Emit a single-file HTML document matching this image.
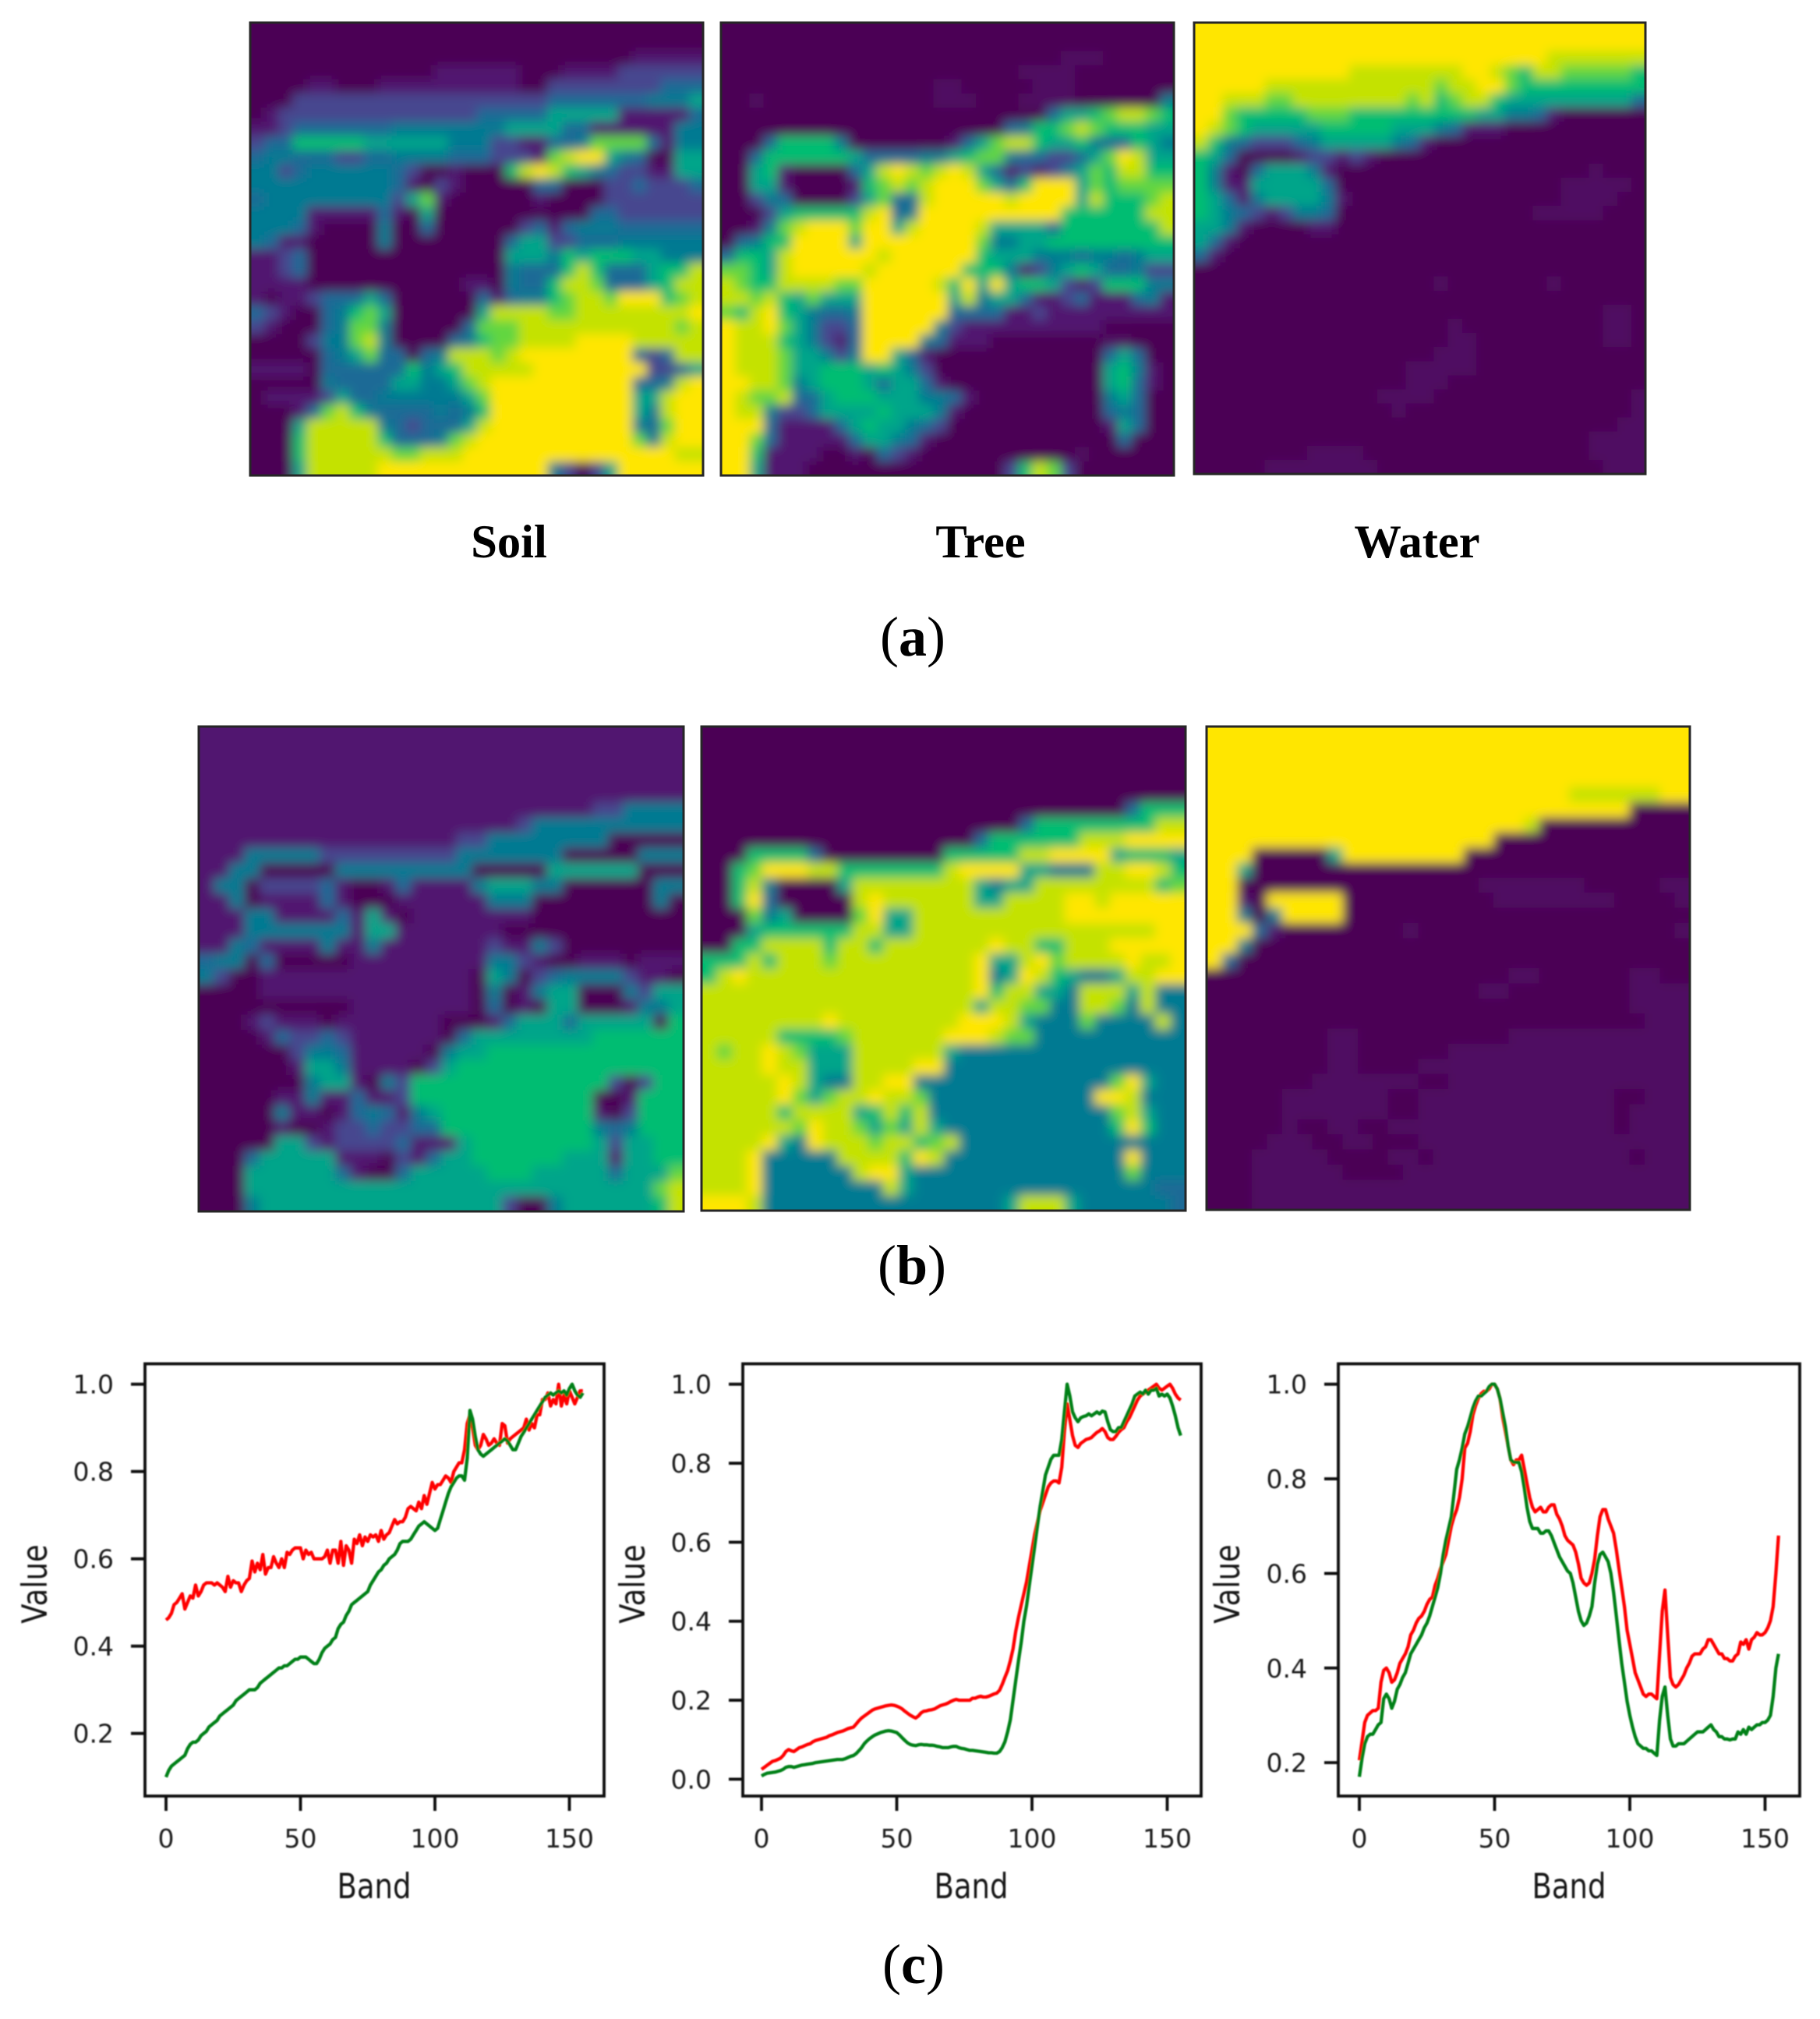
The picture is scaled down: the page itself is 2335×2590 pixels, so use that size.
<!DOCTYPE html>
<html lang="en">
<head>
<meta charset="utf-8">
<title>Soil, Tree and Water abundance maps and spectra</title>
<style>
html,body{margin:0;padding:0;background:#fff;}
svg{display:block;}
.tick{font-family:"DejaVu Sans",sans-serif;font-size:33px;fill:#1e1e1e;}
.axis{font-family:"DejaVu Sans",sans-serif;font-size:37px;fill:#141414;}
.cap{font-family:"Liberation Serif",serif;font-weight:bold;font-size:60.5px;fill:#000;text-anchor:middle;}
.sub{font-family:"Liberation Serif",serif;font-size:72px;fill:#000;text-anchor:middle;}
</style>
</head>
<body>
<svg id="page" xmlns="http://www.w3.org/2000/svg" width="2335" height="2590" viewBox="0 0 2335 2590">
<defs>
<filter id="heat-blur" x="-5%" y="-5%" width="110%" height="110%"><feGaussianBlur stdDeviation="7"/></filter>
<filter id="soft" x="-5%" y="-5%" width="110%" height="110%"><feGaussianBlur stdDeviation="0.7"/></filter>
</defs>
<rect width="2335" height="2590" fill="#fff"/>
<g id="heatmaps"></g>
<text class="cap" x="653" y="715">Soil</text>
<text class="cap" x="1258" y="715">Tree</text>
<text class="cap" x="1818" y="715">Water</text>
<text class="sub" x="1171" y="841">(<tspan font-weight="bold">a</tspan>)</text>
<text class="sub" x="1170" y="1647">(<tspan font-weight="bold">b</tspan>)</text>
<text class="sub" x="1172" y="2544">(<tspan font-weight="bold">c</tspan>)</text>
<g id="charts"></g>
</svg>
<script>
// ---------- heatmap values (levels 0-9, a = faint) ----------
const soilMapA = [
"00000000000000000000000000000000",
"00000000000000000000000000000000",
"00000000000000000000000000011111",
"00000000000001111110001111222222",
"00001100011111111110022222222333",
"00022222222222222222233333334445",
"01222222222222223333355555111113",
"11233333334444444455553311111144",
"23366666555555444221133477773144",
"34433322334444333222178995430055",
"44234444443200100068986543221155",
"44444444443102100000330002232223",
"34444444442571000000100002222222",
"44441111131050000000000033222222",
"44431000040030000002313444333333",
"43110000040000000035522333444444",
"11230000000000000055546566655444",
"11230000000000000043336863335668",
"11110000000000011043368873335688",
"10112333530000003134467887999678",
"32100346750000005888877888888889",
"21000347740000037778888888888878",
"00002447840000346778888999988888",
"00000345733034888789999999932388",
"11110333333645688888999999992235",
"00000433335544578999999999933489",
"01111253344444457999999999955899",
"00013786433334346999999999954899",
"00058888843233358999999999943799",
"00068888863334789999999999974899",
"00068888887788899999999999999988",
"00058888899999999999942025999999"];
const treeMapA = [
"00000000000000000000000000000000",
"00000000000000000000000000000000",
"000000000000000000000000aaa00000",
"000000000000000000000aaaa0000000",
"000000000000000aa00000aaa0000000",
"00a000000000000aaa000aaaa0000004",
"00000000000000000000000355678876",
"00000000000000000000346678766655",
"00036666400000001357886556433654",
"00366666653333445677433223579855",
"00561000035898789853121245768866",
"00551000016787899975369995767777",
"00243000025733899999899995866678",
"00025666668934999999999966666688",
"00147899979958999985555366666668",
"03466999959999999974455666666666",
"36658999999899999965554443443455",
"77658999998999999666412456533422",
"87668888779999986959566521266644",
"88786575559999995845531123111341",
"76896543349999993333112111111111",
"98897542239999942111111111100000",
"988865421399994311100000000aa000",
"98887554249953100000000000035300",
"98887556665654200000000000056410",
"99887456665355310000000000056310",
"98778335666555443100000000045300",
"98842235555655541000000000034300",
"99931111356554320000000000015300",
"99731111135543100000000000003000",
"9961111001032100000000000a000000",
"99511100000000000000268720000000"];
const waterMapA = [
"99999999999999999999999999999999",
"99999999999999999999999999999999",
"99999999999999999999999998888888",
"99999999999888888889987688777776",
"99999888888888888788997666666666",
"99888778888888878678865555555553",
"99766666777666666666554431000000",
"98765555566666555431110000000000",
"86432223455555431000000000000000",
"65300001221210000000000000000000",
"6410355541000000000000000000a000",
"64115555530000000000000000aaaaa0",
"65314555541000000000000000aaaa00",
"654321244300000000000000aaaaa000",
"55410000110000000000000000000000",
"53100000000000000000000000000000",
"31000000000000000000000000000000",
"00000000000000000000000000000000",
"00000000000000000a0000000a000000",
"00000000000000000000000000000000",
"00000000000000000000000000000aa0",
"000000000000000000a0000000000aa0",
"000000000000000000aa000000000aa0",
"00000000000000000aaa000000000000",
"000000000000000aaaaa000000000000",
"000000000000000aaa00000000000000",
"0000000000000aaaa00000000000000a",
"00000000000000a0000000000000000a",
"000000000000000000000000000000aa",
"0000000000000000000000000000aaaa",
"00000000aaaa0000000000000000aaaa",
"00000aaaaaaaa0000000000000000aaa"];
const soilMapB = [
"11111111111111111111111111111111",
"11111111111111111111111111111111",
"11111111111111111111111111111111",
"11111111111111111111111111111111",
"11111111111111111111111111111111",
"11111111111111111111111111224444",
"11111111111111111111124444444444",
"11111111111111111224444444400000",
"11144444222222222444444400000444",
"11440000044444444400000555555000",
"14402222310013111145554400000044",
"11401111310001111114440000000040",
"11144111131510111111110000000000",
"11144444441551111111000000000000",
"11431111411411111112114200000000",
"34403000001111111114421001110111",
"42001111111111111105402344442110",
"00001111111111111104014550004255",
"00000000001111111103010550001445",
"00012111011111110001355535555506",
"00001322321111110355555555666666",
"00000024431111104556666666666666",
"00000015541111025666666666666666",
"00000004551042666666666666620266",
"00000114113112666666666666001666",
"00000411013431456666666666102666",
"00000100122322336666666666434666",
"00000552122223111566666666525566",
"00035555511102135566666655515566",
"00055555531003555556665555535557",
"00055555555555555555555555555578",
"00045555555555555555200455555568"];
const treeMapB = [
"00000000000000000000000000000000",
"00000000000000000000000000000000",
"00000000000000000000000000000000",
"00000000000000000000000000000000",
"00000000000000000000000000000000",
"00000000000000000000000000003666",
"00000000000000000000036666666688",
"00000000000000000036666668889999",
"00066663000000006666688999956665",
"00679998866666668999955444889986",
"00684000058888888854558888888867",
"00693000008988888855888899899999",
"00074500007955888888888899999999",
"00056666668855888888888888888899",
"00668888688688888889886688899999",
"66686888788888888895589788889889",
"68988888888888888894598654458899",
"88888888888888888896885548885844",
"88888888888888888858877448874844",
"88888888988888888999854447444484",
"88888666678888889998774444444444",
"87889875558888885444444444444444",
"88889885558888994444444444444444",
"88888985448899444444444444479544",
"88888975788988744444444444998444",
"88888688885686844444444444478544",
"88888879887575854444444444469644",
"88889549888788678444444444444444",
"88894444488886984444444444449444",
"88894444448995444444444444447444",
"88894444444485444444444444444433",
"99984444444444444444588854444443"];
const waterMapB = [
"99999999999999999999999999999999",
"99999999999999999999999999999999",
"99999999999999999999999999999999",
"99999999999999999999999999999999",
"99999999999999999999999988888899",
"99999999999999999999999999990000",
"99999999999999999999980000000000",
"99999999999999999990000000000000",
"99900000599999999000000000000000",
"99500000000000000000000000000000",
"990000000000000000aaaaaaa00000aa",
"9910999990000000000aaaaaaaa0000a",
"99404999900000000000000000000000",
"9993100000000a00000000000000000a",
"99400000000000000000000000000000",
"93000000000000000000000000000000",
"00000000000000000000aa000000aa00",
"000000000000000000aa00000000aaaa",
"0000000000000000000000000000aaaa",
"00000000000000000000000000000aaa",
"00000000aa0000000000aaaaaaaaaaaa",
"00000000aa000000aaaaaaaaaaaaaaaa",
"00000000aa0000aaaaaaaaaaaaaaaaaa",
"0000000aaaaaaa00aaaaaaaaaaaaaaaa",
"00000aaaaaaa00aaaaaaaaaaaaa00aaa",
"00000aaaaaaa00aaaaaaaaaaaaa0aaaa",
"00000a00aa00aaaaaaaaaaaaaaa0aaaa",
"0000aaa00aa000aaaaaaaaaaaaaaaaaa",
"000aaaaa0000aa0aaaaaaaaaaaaa0aaa",
"000aaaaaa0000aaaaaaaaaaaaaaaaaaa",
"000aaaaaaaaaaaaaaaaaaaaaaaaaaaaa",
"000aaaaaaaaaaaaaaaaaaaaaaaaaaaaa"];

// ---------- spectra values (one per band) ----------
const soilRed = [.46,.465,.475,.495,.5,.51,.52,.485,.5,.515,.51,.54,.515,.525,.54,.545,.545,.545,.54,.545,.54,.535,.525,.56,.535,.55,.545,.545,.525,.54,.55,.555,.595,.57,.59,.575,.61,.565,.58,.58,.605,.59,.58,.6,.58,.615,.61,.62,.625,.625,.625,.6,.62,.61,.615,.6,.6,.6,.6,.605,.62,.59,.62,.62,.59,.64,.585,.63,.62,.59,.645,.635,.655,.63,.65,.64,.655,.65,.655,.64,.665,.645,.655,.66,.675,.69,.68,.685,.685,.695,.715,.72,.715,.71,.73,.715,.745,.725,.75,.775,.76,.77,.77,.78,.79,.785,.775,.8,.81,.82,.82,.85,.91,.93,.9,.86,.85,.86,.885,.875,.86,.865,.875,.865,.86,.91,.905,.865,.875,.88,.885,.89,.895,.9,.92,.895,.91,.9,.93,.93,.965,.965,.98,.95,.965,.955,1,.95,.975,.955,.985,.97,.955,.97,.985,.985];
const soilGreen = [.1,.115,.125,.13,.135,.14,.145,.15,.165,.175,.18,.18,.185,.195,.2,.205,.215,.22,.225,.23,.24,.245,.25,.255,.26,.265,.275,.28,.285,.29,.295,.3,.3,.3,.305,.315,.32,.325,.33,.335,.34,.345,.35,.35,.355,.355,.36,.365,.37,.37,.375,.375,.375,.37,.365,.36,.36,.37,.385,.395,.4,.405,.415,.42,.44,.45,.455,.47,.48,.495,.5,.505,.51,.515,.52,.525,.54,.55,.56,.57,.575,.585,.59,.6,.605,.61,.62,.635,.64,.64,.64,.645,.655,.665,.675,.68,.685,.68,.675,.67,.665,.67,.69,.71,.73,.75,.765,.775,.785,.79,.79,.78,.83,.94,.92,.88,.85,.84,.835,.84,.845,.85,.855,.86,.865,.87,.875,.87,.86,.85,.85,.865,.88,.89,.9,.91,.92,.93,.94,.95,.96,.97,.975,.98,.975,.98,.985,.98,.985,.975,.99,1,.985,.975,.97,.98];
const treeRed = [.025,.03,.035,.04,.045,.047,.05,.053,.06,.07,.075,.072,.07,.075,.08,.082,.085,.088,.09,.095,.098,.1,.102,.104,.106,.11,.112,.115,.118,.12,.122,.125,.128,.13,.132,.14,.148,.155,.16,.165,.17,.175,.178,.18,.182,.184,.186,.187,.188,.187,.185,.182,.178,.172,.167,.162,.158,.155,.16,.168,.172,.173,.175,.176,.178,.182,.186,.188,.19,.193,.197,.2,.202,.2,.2,.2,.2,.2,.205,.205,.208,.21,.208,.208,.21,.213,.216,.218,.225,.24,.258,.275,.3,.33,.375,.41,.44,.47,.5,.54,.58,.62,.65,.68,.7,.72,.74,.75,.755,.755,.75,.79,.88,.95,.91,.87,.845,.84,.85,.855,.86,.862,.865,.872,.878,.882,.888,.88,.865,.86,.86,.868,.878,.885,.89,.905,.915,.93,.945,.96,.97,.975,.98,.985,.99,.995,1,.99,.985,.99,.995,1,.99,.975,.965,.96];
const treeGreen = [.008,.012,.015,.016,.017,.018,.02,.022,.025,.03,.032,.032,.03,.032,.034,.036,.037,.038,.039,.04,.042,.043,.044,.045,.046,.047,.048,.049,.05,.05,.05,.052,.055,.058,.06,.065,.072,.08,.09,.097,.103,.108,.112,.115,.118,.12,.122,.123,.122,.12,.118,.112,.105,.098,.092,.088,.086,.085,.087,.088,.087,.087,.086,.086,.085,.083,.082,.08,.08,.08,.082,.083,.083,.08,.078,.077,.075,.073,.073,.072,.071,.07,.069,.068,.067,.067,.066,.066,.07,.08,.095,.12,.15,.2,.25,.3,.345,.4,.44,.49,.54,.59,.64,.69,.73,.77,.79,.81,.82,.82,.82,.86,.93,1,.97,.93,.915,.905,.915,.918,.92,.925,.92,.925,.93,.925,.932,.93,.905,.885,.88,.88,.89,.89,.905,.92,.935,.95,.97,.975,.98,.975,.985,.975,.985,.985,.99,.97,.975,.97,.975,.965,.945,.92,.89,.87];
const waterRed = [.205,.245,.285,.3,.305,.31,.31,.315,.37,.395,.4,.39,.37,.375,.39,.41,.42,.43,.445,.47,.48,.495,.505,.51,.52,.535,.545,.55,.575,.59,.61,.625,.64,.67,.7,.72,.735,.76,.8,.865,.875,.9,.935,.955,.97,.98,.985,.985,.99,1,1,.99,.97,.93,.9,.87,.84,.83,.84,.84,.85,.82,.79,.76,.74,.73,.735,.74,.73,.73,.74,.745,.745,.725,.715,.7,.68,.67,.665,.66,.645,.62,.59,.58,.575,.58,.6,.63,.68,.72,.735,.735,.715,.7,.685,.65,.61,.57,.53,.48,.45,.42,.39,.375,.36,.345,.34,.345,.345,.34,.335,.43,.52,.565,.47,.38,.365,.36,.365,.375,.385,.4,.41,.425,.43,.43,.43,.44,.445,.46,.46,.45,.44,.43,.43,.42,.42,.415,.415,.425,.43,.455,.45,.46,.44,.46,.465,.475,.47,.47,.475,.485,.5,.53,.6,.68];
const waterGreen = [.17,.21,.24,.255,.26,.26,.27,.28,.285,.335,.345,.335,.315,.33,.355,.365,.38,.39,.41,.43,.44,.45,.46,.47,.485,.495,.51,.53,.55,.57,.6,.64,.67,.695,.72,.77,.82,.84,.865,.895,.91,.93,.95,.965,.975,.975,.98,.985,.995,1,1,.99,.97,.94,.91,.87,.84,.835,.835,.835,.815,.78,.74,.71,.695,.695,.695,.685,.685,.69,.69,.68,.665,.65,.635,.625,.615,.605,.6,.58,.55,.52,.5,.49,.495,.51,.53,.58,.62,.64,.645,.635,.625,.6,.56,.51,.46,.41,.37,.33,.3,.275,.255,.24,.235,.23,.23,.225,.225,.22,.215,.29,.34,.36,.3,.25,.235,.235,.24,.24,.24,.245,.25,.255,.26,.265,.265,.265,.27,.275,.28,.27,.265,.255,.255,.25,.25,.248,.25,.25,.265,.26,.27,.26,.275,.27,.275,.28,.28,.285,.285,.29,.3,.34,.4,.43];
const xTicks = [0,50,100,150];
const xTickLabels = ["0","50","100","150"];
const soilYTicks = [0.2,0.4,0.6,0.8,1.0];
const treeYTicks = [0,0.2,0.4,0.6,0.8,1.0];
const waterYTicks = [0.2,0.4,0.6,0.8,1.0];
const xAxisLabel = "Band";
const yAxisLabel = "Value";

// ---------- rendering ----------
const NS = 'http://www.w3.org/2000/svg';
const ramp = ['#4b0055','#51186f','#47478f','#1f6a96','#007a92','#00a58a','#00bd72','#62d640','#c4e200','#ffe600'];
const faint = '#4f0c62';
function colorOf(ch){ return ch === 'a' ? faint : ramp[+ch] || ramp[0]; }

function drawHeatmap(rows, name, left, top, size, idx){
  const root = document.getElementById('heatmaps');
  const clip = document.createElementNS(NS,'clipPath');
  clip.setAttribute('id','clip'+idx);
  const cr = document.createElementNS(NS,'rect');
  cr.setAttribute('x',left); cr.setAttribute('y',top);
  cr.setAttribute('width',size); cr.setAttribute('height',size);
  clip.appendChild(cr);
  root.appendChild(clip);
  const outer = document.createElementNS(NS,'g');
  outer.setAttribute('clip-path','url(#clip'+idx+')');
  
  
  const inner = document.createElementNS(NS,'g');
  inner.setAttribute('filter','url(#heat-blur)');
  inner.setAttribute('shape-rendering','crispEdges');
  const n = rows.length, cell = size/n, bleed = 40;
  rows.forEach((row,r)=>{
    for(let c=0;c<n;c++){
      const ch = c < row.length ? row[c] : row[row.length-1];
      const x0 = left + c*cell - (c===0?bleed:0);
      const y0 = top + r*cell - (r===0?bleed:0);
      const x1 = left + (c+1)*cell + (c===n-1?bleed:0.5);
      const y1 = top + (r+1)*cell + (r===n-1?bleed:0.5);
      const el = document.createElementNS(NS,'rect');
      
      
      el.setAttribute('x',x0); el.setAttribute('y',y0);
      el.setAttribute('width',x1-x0); el.setAttribute('height',y1-y0);
      el.setAttribute('fill',colorOf(ch));
      inner.appendChild(el);
    }
  });
  outer.appendChild(inner);
  root.appendChild(outer);
  const frame = document.createElementNS(NS,'rect');
  
  
  frame.setAttribute('x',left); frame.setAttribute('y',top);
  frame.setAttribute('width',size); frame.setAttribute('height',size);
  frame.setAttribute('fill','none'); frame.setAttribute('stroke','#262626'); frame.setAttribute('stroke-width','3');
  root.appendChild(frame);
}
drawHeatmap(soilMapA,'soil-map-a',321,29,581,0);
drawHeatmap(treeMapA,'tree-map-a',925,29,581,1);
drawHeatmap(waterMapA,'water-map-a',1532,29,579,2);
drawHeatmap(soilMapB,'soil-map-b',255,932,622,3);
drawHeatmap(treeMapB,'tree-map-b',900,932,621,4);
drawHeatmap(waterMapB,'water-map-b',1548,932,620,5);

const frameTop = 1749.5, frameBottom = 2304;
function addText(parent, cls, x, y, str, anchor){
  const t = document.createElementNS(NS,'text');
  t.setAttribute('class',cls);
  t.setAttribute('x',x); t.setAttribute('y',y);
  t.setAttribute('text-anchor',anchor);
  t.textContent = str;
  parent.appendChild(t);
  return t;
}
function addLine(parent,x1,y1,x2,y2){
  const l = document.createElementNS(NS,'line');
  l.setAttribute('x1',x1); l.setAttribute('y1',y1);
  l.setAttribute('x2',x2); l.setAttribute('y2',y2);
  l.setAttribute('stroke','#0c0c0c'); l.setAttribute('stroke-width','3.8');
  parent.appendChild(l);
  return l;
}
function drawChart(cfg){
  const root = document.getElementById('charts');
  const g = document.createElementNS(NS,'g');
  
  
  root.appendChild(g);
  const xs = b => cfg.x0 + b*cfg.xUnit;
  const ys = v => cfg.y1 + (1-v)*cfg.yUnit;
  const soft = document.createElementNS(NS,'g');
  soft.setAttribute('filter','url(#soft)');
  g.appendChild(soft);
  [[cfg.red,'#ff0000','red-spectrum'],[cfg.green,'#008019','green-spectrum']].forEach(s=>{
    const p = document.createElementNS(NS,'polyline');
    
    
    p.setAttribute('fill','none');
    p.setAttribute('stroke',s[1]);
    p.setAttribute('stroke-width','4.3');
    p.setAttribute('stroke-linejoin','round');
    p.setAttribute('points', s[0].map((v,i)=>xs(i).toFixed(1)+','+ys(v).toFixed(1)).join(' '));
    soft.appendChild(p);
  });
  const frame = document.createElementNS(NS,'rect');
  
  
  frame.setAttribute('x',cfg.left); frame.setAttribute('y',frameTop);
  frame.setAttribute('width',cfg.right-cfg.left); frame.setAttribute('height',frameBottom-frameTop);
  frame.setAttribute('fill','none'); frame.setAttribute('stroke','#0c0c0c'); frame.setAttribute('stroke-width','3.8');
  soft.appendChild(frame);
  xTicks.forEach((t,i)=>{
    const l = addLine(soft,xs(t),frameBottom,xs(t),2323);
    
    
    const lab = addText(soft,'tick',xs(t),2370,xTickLabels[i],'middle');
    
    
  });
  cfg.yTicks.forEach(t=>{
    const l = addLine(soft,cfg.left-18,ys(t),cfg.left,ys(t));
    
    
    const lab = addText(soft,'tick',cfg.left-40,ys(t)+12,t.toFixed(1),'end');
    
    
  });
  const xl = addText(soft,'axis',0,0,xAxisLabel,'middle');
  xl.setAttribute('transform','translate('+cfg.bandX+' 2435) scale(1 1.2)');
  
  
  const yl = addText(soft,'axis',0,0,yAxisLabel,'middle');
  yl.setAttribute('transform','translate('+cfg.valueX+' 2032) rotate(-90) scale(1 1.2)');
  
  
}
drawChart({name:'soil-spectra-chart',left:186,right:775,x0:213,xUnit:3.45,y1:1775.7,yUnit:560,yTicks:soilYTicks,red:soilRed,green:soilGreen,bandX:480,valueX:60});
drawChart({name:'tree-spectra-chart',left:953,right:1541,x0:977,xUnit:3.47,y1:1775.7,yUnit:506.7,yTicks:treeYTicks,red:treeRed,green:treeGreen,bandX:1246,valueX:827});
drawChart({name:'water-spectra-chart',left:1717,right:2309,x0:1744,xUnit:3.47,y1:1775.7,yUnit:606.8,yTicks:waterYTicks,red:waterRed,green:waterGreen,bandX:2013,valueX:1590});
</script>
</body>
</html>
